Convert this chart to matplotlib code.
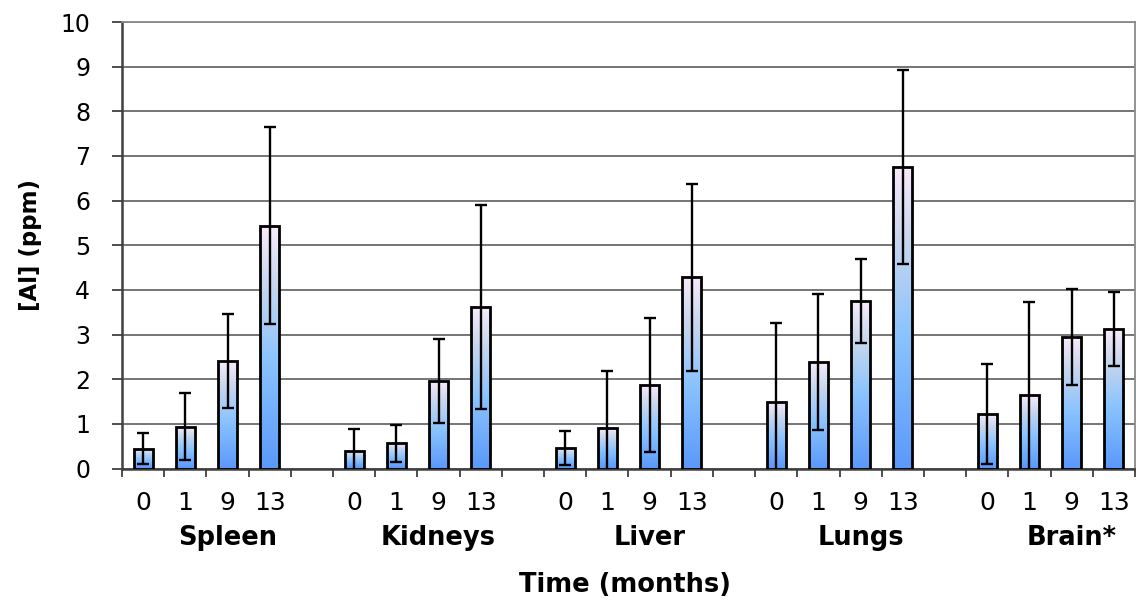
import numpy as np
import matplotlib
matplotlib.use("Agg")
import matplotlib.pyplot as plt
from matplotlib.colors import LinearSegmentedColormap
from matplotlib.transforms import blended_transform_factory

# ---- data ----
organs = ["Spleen", "Kidneys", "Liver", "Lungs", "Brain*"]
months = ["0", "1", "9", "13"]
spleen = [0.44, 0.93, 2.41, 5.44]
spleen_err = [0.35, 0.75, 1.06, 2.20]
kidneys = [0.40, 0.56, 1.97, 3.62]
kidneys_err = [0.49, 0.42, 0.94, 2.29]
liver = [0.46, 0.91, 1.87, 4.28]
liver_err = [0.38, 1.27, 1.50, 2.10]
lungs = [1.49, 2.38, 3.75, 6.75]
lungs_err = [1.76, 1.52, 0.94, 2.18]
brain = [1.22, 1.65, 2.94, 3.12]
brain_err = [1.12, 2.07, 1.07, 0.83]

values = [spleen, kidneys, liver, lungs, brain]
errors = [spleen_err, kidneys_err, liver_err, lungs_err, brain_err]

plt.rcParams['font.family'] = ['DejaVu Sans']

fig = plt.figure(figsize=(11.36, 6.02), dpi=100)
ax = fig.add_axes([122/1136, 1-468.5/602, (1135-122)/1136, (468.5-22)/602])

cmap = LinearSegmentedColormap.from_list(
    "bar", [(0.0, "#5b99fa"), (0.45, "#8cc4fe"), (0.75, "#c6d6ee"), (1.0, "#faeafa")])
grad = np.linspace(0, 1, 256).reshape(-1, 1)

width = 0.45
xs, ys, es = [], [], []
for g in range(len(organs)):
    for i in range(len(months)):
        xs.append(g * 5 + i)
        ys.append(values[g][i])
        es.append(errors[g][i])

for x, y in zip(xs, ys):
    ax.imshow(grad, cmap=cmap, origin="lower", aspect="auto",
              extent=[x - width/2, x + width/2, 0, y], zorder=2, interpolation="bilinear")
ax.bar(xs, ys, width=width, facecolor="none", edgecolor="black", linewidth=2.0, zorder=3)
ax.errorbar(xs, ys, yerr=es, fmt="none", ecolor="black", elinewidth=1.7,
            capsize=4.6, capthick=1.7, zorder=4)

ax.set_xlim(-0.5, 23.5)
ax.set_ylim(0, 10)

ax.set_yticks(range(0, 11))
ax.yaxis.grid(True, color="#6a6a6a", linewidth=1.3, zorder=0)
ax.set_axisbelow(True)
ax.tick_params(axis="y", direction="out", length=7, width=1.3, color="#404040",
               labelsize=17, pad=16)

ax.set_xticks(np.arange(-0.5, 24, 1.0))
ax.set_xticklabels([])
ax.tick_params(axis="x", which="major", direction="out", length=6, width=1.3, color="#404040")
ax.set_xticks(xs, [months[i % 4] for i in range(len(xs))], minor=True)
ax.tick_params(axis="x", which="minor", length=0, labelsize=18, pad=16)

for s in ["left", "bottom"]:
    ax.spines[s].set_color("#404040")
    ax.spines[s].set_linewidth(1.8)
for s in ["top", "right"]:
    ax.spines[s].set_color("#8a8a8a")
    ax.spines[s].set_linewidth(1.3)

tr = blended_transform_factory(ax.transData, fig.transFigure)
for g, name in enumerate(organs):
    ax.text(g * 5 + 2, 1 - 538/602, name, transform=tr, ha="center", va="center",
            fontsize=18.5, fontweight="bold")

fig.text(625/1136, 1 - 585/602, "Time (months)", ha="center", va="center",
         fontsize=18.5, fontweight="bold")
fig.text(30/1136, 1 - 245/602, "[Al] (ppm)", ha="center", va="center", rotation=90,
         fontsize=16.5, fontweight="bold")

fig.savefig("out.png", dpi=100)
